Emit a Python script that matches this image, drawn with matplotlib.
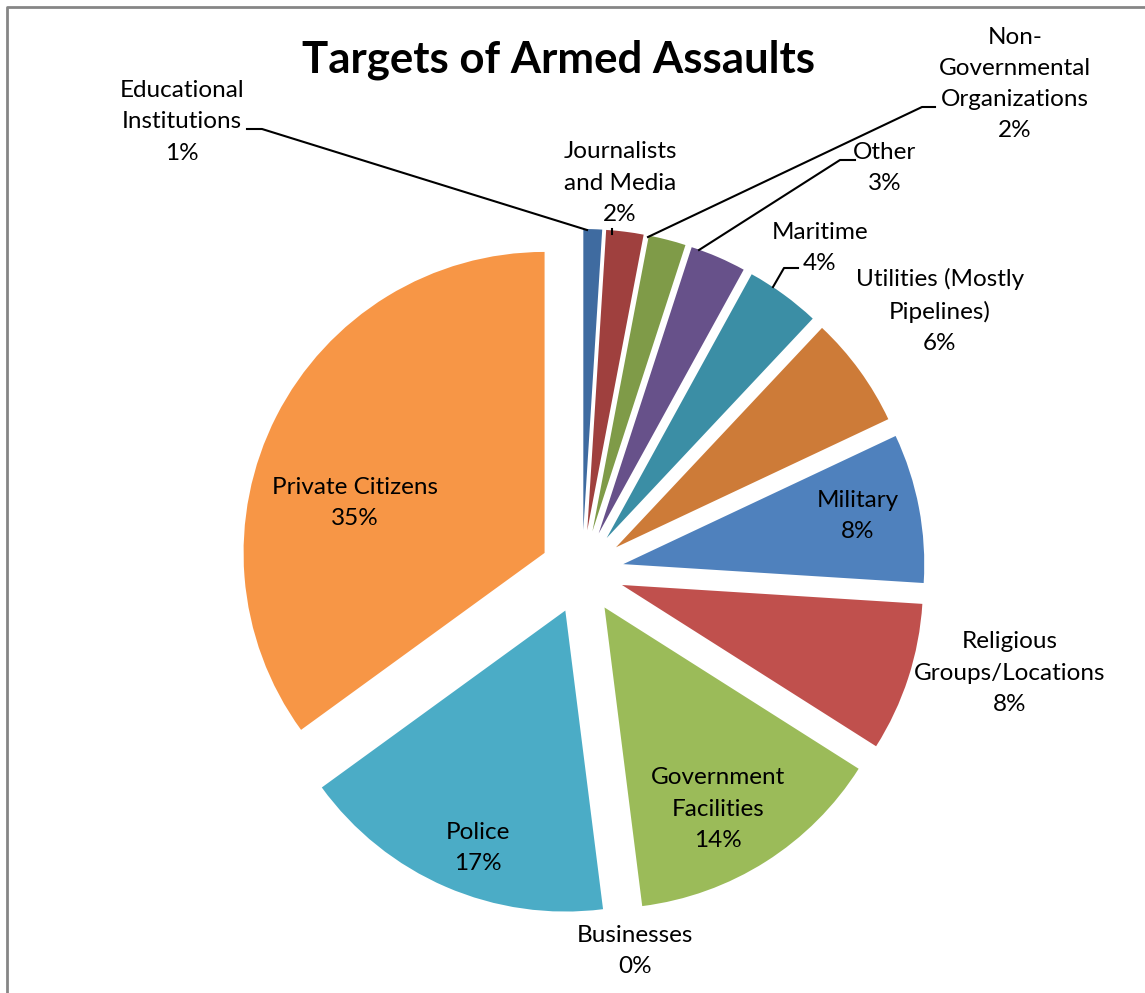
import matplotlib.pyplot as plt

# Armed assault targets, clockwise from 12 o'clock
labels = ['Educational\nInstitutions', 'Journalists\nand Media', 'Non-\nGovernmental\nOrganizations',
          'Other', 'Maritime', 'Utilities (Mostly\nPipelines)', 'Military',
          'Religious\nGroups/Locations', 'Government\nFacilities', 'Businesses',
          'Police', 'Private Citizens']
pct = [1, 2, 2, 3, 4, 6, 8, 8, 14, 0, 17, 35]
colors = ['#3F6BA0', '#9F403E', '#7F9B48', '#67518A', '#3B8EA5', '#CD7B38',
          '#4F81BD', '#C0504D', '#9BBB59', '#8064A2', '#4BACC6', '#F79646']

W, H = 1145, 993
fig = plt.figure(figsize=(W / 100, H / 100), dpi=100)
ax = fig.add_axes([0, 0, 1, 1])

# chart border
ax.plot([7, 7, W], [0, H - 7, H - 7], color='#868686', lw=2, solid_capstyle='butt')

# explode is in data units here (radius is in pixels)
R = 301
ax.pie(pct, colors=colors, startangle=90, counterclock=False,
       center=(582, H - 572), radius=R, explode=[42] * len(pct),
       wedgeprops=dict(linewidth=0), frame=True)
ax.set_xlim(0, W)
ax.set_ylim(0, H)
ax.axis('off')

font = 'Lato'
ax.text(558, H - 60, 'Targets of Armed Assaults', ha='center', va='center',
        fontsize=31.5, fontweight='bold', family=font)

# label text positions (image px: x, y of block centre)
pos = [(182, 122), (620, 183), (1015, 84), (885, 168), (820, 248), (940, 311),
       (858, 516), (1010, 673), (718, 809), (635, 951), (478, 848), (355, 503)]
for lab, p, (x, y) in zip(labels, pct, pos):
    ax.text(x, H - y, f'{lab}\n{p}%', ha='center', va='center', fontsize=17.5,
            family=font, linespacing=1.6)

# leader lines
leaders = [
    [(247, 129), (262, 129), (587, 230)],
    [(612, 229), (612, 234)],
    [(935, 107), (922, 107), (648, 237)],
    [(855, 160), (840, 160), (699, 250)],
    [(798, 268), (784, 268), (773, 287)],
]
for pts in leaders:
    xs = [p[0] for p in pts]
    ys = [H - p[1] for p in pts]
    ax.plot(xs, ys, color='black', lw=1.5)

fig.savefig('out.png', dpi=100)
